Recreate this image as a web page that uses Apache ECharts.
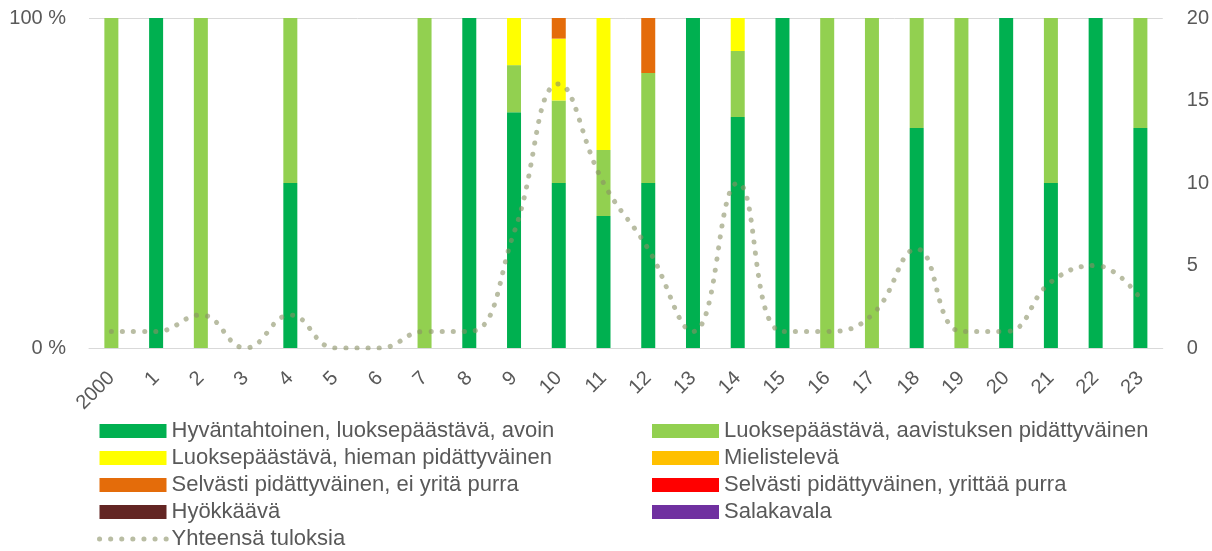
<!DOCTYPE html>
<html>
<head>
<meta charset="utf-8">
<script src="https://cdn.jsdelivr.net/npm/echarts@6.0.0/dist/echarts.min.js"></script>
<style>
    html, body { margin: 0; padding: 0; background: #fff; }
    #main { width: 1212px; height: 551px; }
</style>
</head>
<body>
<div id="main"></div>
<script>
// vuodet (2000, 1, 2, ... 23)
var years = ['2000','1','2','3','4','5','6','7','8','9','10','11','12','13','14','15','16','17','18','19','20','21','22','23'];

// tulosten lukumäärät luokittain
var hyvantahtoinen = [0,1,0,0,1,0,0,0,1,5,8,4,3,1,7,1,0,0,4,0,1,2,5,2];
var aavistuksen    = [1,0,2,0,1,0,0,1,0,1,4,2,2,0,2,0,1,2,2,1,0,2,0,1];
var hieman         = [0,0,0,0,0,0,0,0,0,1,3,4,0,0,1,0,0,0,0,0,0,0,0,0];
var mielisteleva   = [0,0,0,0,0,0,0,0,0,0,0,0,0,0,0,0,0,0,0,0,0,0,0,0];
var eiYrita        = [0,0,0,0,0,0,0,0,0,0,1,0,1,0,0,0,0,0,0,0,0,0,0,0];
var yrittaa        = [0,0,0,0,0,0,0,0,0,0,0,0,0,0,0,0,0,0,0,0,0,0,0,0];
var hyokkaava      = [0,0,0,0,0,0,0,0,0,0,0,0,0,0,0,0,0,0,0,0,0,0,0,0];
var salakavala     = [0,0,0,0,0,0,0,0,0,0,0,0,0,0,0,0,0,0,0,0,0,0,0,0];

// yhteensä tuloksia (oikea akseli)
var yhteensa = [1,1,2,0,2,0,0,1,1,7,16,10,6,1,10,1,1,2,6,1,1,4,5,3];

var seriesNames = [
    'Hyväntahtoinen, luoksepäästävä, avoin',
    'Luoksepäästävä, aavistuksen pidättyväinen',
    'Luoksepäästävä, hieman pidättyväinen',
    'Mielistelevä',
    'Selvästi pidättyväinen, ei yritä purra',
    'Selvästi pidättyväinen, yrittää purra',
    'Hyökkäävä',
    'Salakavala'
];
var lineName = 'Yhteensä tuloksia';
var seriesData = [hyvantahtoinen, aavistuksen, hieman, mielisteleva, eiYrita, yrittaa, hyokkaava, salakavala];
var colors = ['#00B050','#92D050','#FFFF00','#FFC000','#E46C0A','#FF0000','#632523','#7030A0'];

var fontName = 'Liberation Sans';
var textColor = '#595959';
var dotLine = {
    color: '#8a9166',
    opacity: 0.6,
    width: 5,
    type: [0.1, 11],
    cap: 'round'
};

// osuudet 100 % pinoa varten
function share(arr){
    return arr.map(function(v, i){
        return yhteensa[i] > 0 ? v / yhteensa[i] : 0;
    });
}

var series = [];
for (var i = 0; i < seriesData.length; i++) {
    series.push({
        name: seriesNames[i],
        type: 'bar',
        stack: 'osuus',
        barWidth: 14,
        itemStyle: { color: colors[i] },
        data: share(seriesData[i])
    });
}
series.push({
    name: lineName,
    type: 'line',
    yAxisIndex: 1,
    smooth: 0.45,
    symbol: 'none',
    z: 5,
    itemStyle: { color: '#8a9166', opacity: 0.6 },
    lineStyle: dotLine,
    data: yhteensa
});

function rectItem(name){
    return { name: name, icon: 'rect' };
}

var legendText = { fontFamily: fontName, fontSize: 22, color: textColor };

var option = {
    animation: false,
    textStyle: { fontFamily: fontName },
    grid: {
        left: 89,
        right: 49,
        top: 18,
        bottom: 203
    },
    legend: [
        {
            orient: 'vertical',
            left: 97,
            top: 420,
            padding: 0,
            itemWidth: 67,
            itemHeight: 14,
            itemGap: 5,
            textStyle: legendText,
            data: [rectItem(seriesNames[0]), rectItem(seriesNames[2]), rectItem(seriesNames[4]),
                   rectItem(seriesNames[6]),
                   { name: lineName, itemStyle: { opacity: 0 }, lineStyle: dotLine }]
        },
        {
            orient: 'vertical',
            left: 652,
            top: 420,
            padding: 0,
            itemWidth: 67,
            itemHeight: 14,
            itemGap: 5,
            textStyle: legendText,
            data: [rectItem(seriesNames[1]), rectItem(seriesNames[3]), rectItem(seriesNames[5]),
                   rectItem(seriesNames[7])]
        }
    ],
    xAxis: {
        type: 'category',
        data: years,
        axisLine: { lineStyle: { color: '#d9d9d9', width: 1 } },
        axisTick: { show: false },
        axisLabel: {
            rotate: 45,
            margin: 27,
            fontSize: 20,
            color: textColor,
            fontFamily: fontName
        }
    },
    yAxis: [
        {
            type: 'value',
            min: 0,
            max: 1,
            interval: 1,
            axisLine: { show: false },
            axisTick: { show: false },
            splitLine: { lineStyle: { color: '#d9d9d9', width: 1 } },
            axisLabel: {
                margin: 23,
                fontSize: 20,
                color: textColor,
                fontFamily: fontName,
                formatter: function (v) { return Math.round(v * 100) + ' %'; }
            }
        },
        {
            type: 'value',
            min: 0,
            max: 20,
            interval: 5,
            axisLine: { show: false },
            axisTick: { show: false },
            splitLine: { show: false },
            axisLabel: {
                margin: 24,
                fontSize: 20,
                color: textColor,
                fontFamily: fontName
            }
        }
    ],
    series: series
};

var myChart = echarts.init(document.getElementById('main'));
myChart.setOption(option);
</script>
</body>
</html>
